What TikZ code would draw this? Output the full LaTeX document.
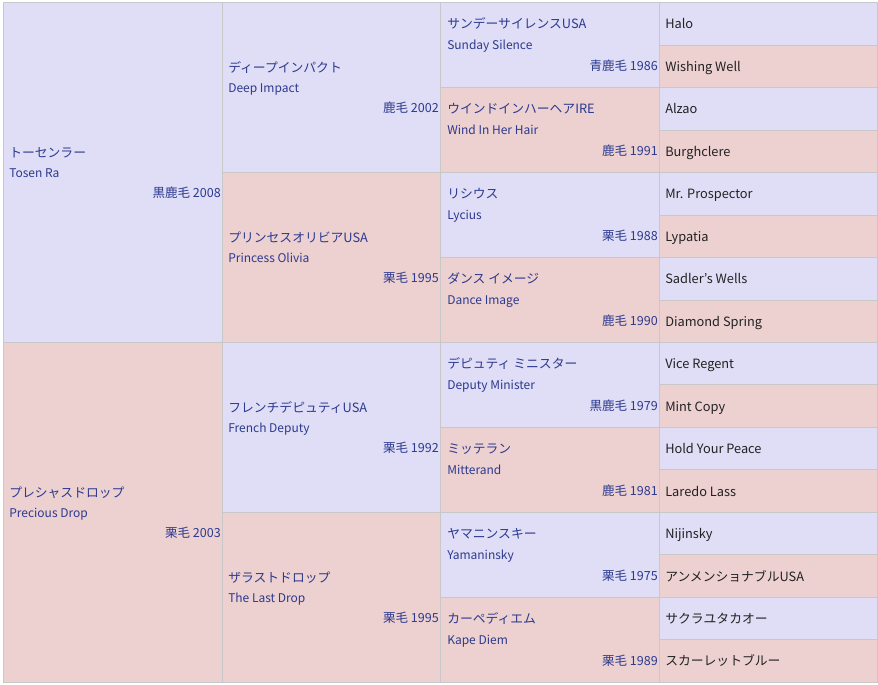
\documentclass[tikz,border=0pt]{standalone}
\usepackage{fontspec}
\setmainfont{Noto Sans CJK JP}
\definecolor{lavcell}{HTML}{E0DDF6}
\definecolor{rosecell}{HTML}{EDD0D0}
\definecolor{gridline}{HTML}{C8C8C8}
\definecolor{nametext}{HTML}{2C3A8F}
\definecolor{anctext}{HTML}{222222}
\tikzset{
  sirecell/.style={fill=lavcell,draw=gridline,line width=0.75pt},
  damcell/.style={fill=rosecell,draw=gridline,line width=0.75pt},
  cell text/.style={inner sep=0pt,text height=0.75em,text depth=0.2em,yshift=-1.5pt},
  jname/.style={cell text,anchor=west,text=nametext,font=\fontsize{9.6}{11}\selectfont},
  ename/.style={cell text,anchor=west,text=nametext,font=\fontsize{9}{11}\selectfont},
  coat/.style={cell text,anchor=east,text=nametext,font=\fontsize{9.4}{11}\selectfont},
  anc/.style={cell text,anchor=west,text=anctext,font=\fontsize{9.6}{11}\selectfont}
}
\begin{document}
\begin{tikzpicture}[x=0.75pt,y=-0.75pt]
\useasboundingbox (0,0) rectangle (878,685);

%Cells: column 1 (sire / dam)
\draw[sirecell] (3,3) rectangle (222,342.5);
\draw[damcell] (3,342.5) rectangle (222,682);
%Cells: column 2
\foreach \i in {0,1}
  {\draw[sirecell] (222,{3+2*\i*169.75}) rectangle (440,{3+(2*\i+1)*169.75});
   \draw[damcell] (222,{3+(2*\i+1)*169.75}) rectangle (440,{3+(2*\i+2)*169.75});}
%Cells: column 3
\foreach \i in {0,...,3}
  {\draw[sirecell] (440,{3+2*\i*84.875}) rectangle (659,{3+(2*\i+1)*84.875});
   \draw[damcell] (440,{3+(2*\i+1)*84.875}) rectangle (659,{3+(2*\i+2)*84.875});}
%Cells: column 4
\foreach \i in {0,...,7}
  {\draw[sirecell] (659,{3+2*\i*42.4375}) rectangle (877,{3+(2*\i+1)*42.4375});
   \draw[damcell] (659,{3+(2*\i+1)*42.4375}) rectangle (877,{3+(2*\i+2)*42.4375});}

% Text Node: column 1
\node[jname] (s) at (9,152) {トーセンラー};
\node[ename] (sen) at (9,172) {Tosen Ra};
\node[coat] (sc) at (221,192) {黒鹿毛 2008};
\node[jname] (d) at (9,492) {プレシャスドロップ};
\node[ename] (den) at (9,512) {Precious Drop};
\node[coat] (dc) at (221,532) {栗毛 2003};

% Text Node: column 2
\node[jname] (ss) at (228,67) {ディープインパクト};
\node[ename] (ssen) at (228,87) {Deep Impact};
\node[coat] (ssc) at (439,107) {鹿毛 2002};
\node[jname] (sd) at (228,237) {プリンセスオリビアUSA};
\node[ename] (sden) at (228,257) {Princess Olivia};
\node[coat] (sdc) at (439,277) {栗毛 1995};
\node[jname] (ds) at (228,407) {フレンチデピュティUSA};
\node[ename] (dsen) at (228,427) {French Deputy};
\node[coat] (dsc) at (439,447) {栗毛 1992};
\node[jname] (dd) at (228,577) {ザラストドロップ};
\node[ename] (dden) at (228,597) {The Last Drop};
\node[coat] (ddc) at (439,617) {栗毛 1995};

% Text Node: column 3
\node[jname] (sss) at (447,23) {サンデーサイレンスUSA};
\node[ename] (ssse) at (447,44) {Sunday Silence};
\node[coat] (sssc) at (658,65) {青鹿毛 1986};
\node[jname] (ssd) at (447,108) {ウインドインハーヘアIRE};
\node[ename] (ssde) at (447,129) {Wind In Her Hair};
\node[coat] (ssdc) at (658,150) {鹿毛 1991};
\node[jname] (sds) at (447,193) {リシウス};
\node[ename] (sdse) at (447,214) {Lycius};
\node[coat] (sdsc) at (658,235) {栗毛 1988};
\node[jname] (sdd) at (447,278) {ダンス イメージ};
\node[ename] (sdde) at (447,299) {Dance Image};
\node[coat] (sddc) at (658,320) {鹿毛 1990};
\node[jname] (dss) at (447,363) {デピュティ ミニスター};
\node[ename] (dsse) at (447,384) {Deputy Minister};
\node[coat] (dssc) at (658,405) {黒鹿毛 1979};
\node[jname] (dsd) at (447,448) {ミッテラン};
\node[ename] (dsde) at (447,469) {Mitterand};
\node[coat] (dsdc) at (658,490) {鹿毛 1981};
\node[jname] (dds) at (447,533) {ヤマニンスキー};
\node[ename] (ddse) at (447,554) {Yamaninsky};
\node[coat] (ddsc) at (658,575) {栗毛 1975};
\node[jname] (ddd) at (447,618) {カーペディエム};
\node[ename] (ddde) at (447,639) {Kape Diem};
\node[coat] (dddc) at (658,660) {栗毛 1989};

% Text Node: column 4
\node[anc] (a1) at (665,23) {Halo};
\node[anc] (a2) at (665,66) {Wishing Well};
\node[anc] (a3) at (665,108) {Alzao};
\node[anc] (a4) at (665,151) {Burghclere};
\node[anc] (a5) at (665,193) {Mr. Prospector};
\node[anc] (a6) at (665,236) {Lypatia};
\node[anc] (a7) at (665,278) {Sadler's Wells};
\node[anc] (a8) at (665,321) {Diamond Spring};
\node[anc] (a9) at (665,363) {Vice Regent};
\node[anc] (a10) at (665,406) {Mint Copy};
\node[anc] (a11) at (665,448) {Hold Your Peace};
\node[anc] (a12) at (665,491) {Laredo Lass};
\node[anc] (a13) at (665,533) {Nijinsky};
\node[anc] (a14) at (665,576) {アンメンショナブルUSA};
\node[anc] (a15) at (665,618) {サクラユタカオー};
\node[anc] (a16) at (665,660) {スカーレットブルー};

\end{tikzpicture}
\end{document}
